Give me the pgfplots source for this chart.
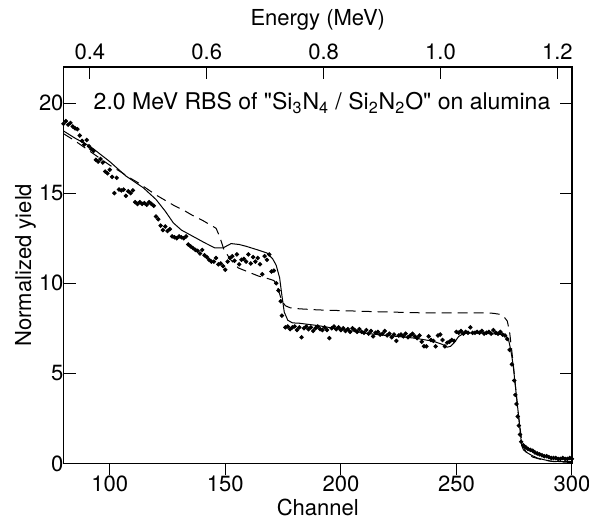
\documentclass[border=0pt]{standalone}
\usepackage{fontspec}
\setmainfont{TeX Gyre Heros}[Ligatures=TeXOff]
\usepackage{pgfplots}
\pgfplotsset{compat=1.18}
\usepackage{pgfplotstable}

\pgfplotstableread{
ch val
80 18.85
81 19.0
82 18.8
83 18.9
84 18.7
85 18.6
86 18.55
87 18.2
88 17.9
89 17.7
90 17.95
91 17.6
92 17.45
93 17.35
94 16.85
95 16.75
96 16.9
97 16.7
98 16.2
99 16.1
100 16.3
101 15.9
102 15.0
103 15.85
104 15.2
105 15.15
106 15.2
107 14.85
108 15.1
109 15.0
110 15.15
111 14.5
112 14.4
113 14.5
114 14.4
115 14.45
116 14.35
117 14.5
118 14.4
119 14.3
120 13.7
121 13.55
122 13.2
123 12.95
124 13.15
125 12.9
126 13.0
127 12.6
128 12.55
129 12.5
130 12.6
131 12.55
132 12.5
133 12.6
134 12.15
135 12.05
136 11.95
137 11.85
138 11.8
139 11.65
140 11.85
141 11.55
142 11.45
143 11.3
144 11.2
145 11.2
146 11.4
147 11.05
148 11.1
149 10.95
150 10.75
151 11.2
152 11.4
153 11.5
154 11.25
155 11.6
156 11.05
157 11.3
158 11.35
159 11.2
160 11.6
161 11.1
162 11.45
163 11.2
164 11.4
165 11.05
166 10.5
167 11.5
168 11.3
169 11.6
170 10.65
171 10.7
172 10.0
173 9.6
174 9.0
174.5 8.2
176 7.55
177 7.6
178 7.45
179 7.55
180 7.6
181 7.4
182 7.55
183 7.0
184 7.5
185 7.6
186 7.45
187 7.55
188 7.35
189 7.5
190 7.6
191 7.45
192 7.4
193 7.55
194 7.4
195 6.95
196 7.5
197 7.6
198 7.45
199 7.55
200 7.4
201 7.5
202 7.35
203 7.45
204 7.3
205 7.5
206 7.4
207 7.3
208 7.45
209 7.3
210 7.25
211 7.4
212 7.2
213 7.35
214 7.05
215 7.25
216 7.3
217 7.15
218 7.2
219 7.35
220 7.1
221 7.2
222 7.0
223 7.15
224 6.8
225 7.1
226 7.15
227 7.05
228 7.2
229 7.0
230 7.1
231 7.2
232 7.05
233 6.95
234 7.1
235 6.75
236 6.5
237 6.5
238 7.05
239 6.85
240 6.8
241 6.5
242 7.1
243 7.15
244 6.85
245 6.5
246 6.7
247 6.75
248 6.85
249 6.8
250 7.3
251 7.25
252 7.35
253 7.2
254 7.3
255 7.25
256 7.55
257 7.25
258 7.25
259 7.3
260 7.25
261 7.35
262 7.2
263 7.25
264 7.3
265 7.2
266 7.4
267 7.25
268 7.2
269 7.3
270 7.15
271 7.1
272 6.9
273 6.3
274 5.5
275 4.6
275.5 3.8
276 3.3
276.5 2.6
277 2.1
277.5 1.6
278 1.2
279 1.0
280 0.9
281 0.8
282 0.75
283 0.7
284 0.6
285 0.55
286 0.5
287 0.45
288 0.4
289 0.4
290 0.35
291 0.3
292 0.3
293 0.3
294 0.25
295 0.25
296 0.3
297 0.25
298 0.25
299 0.3
300 0.25
}\dots

\pgfplotstableread{
ch val
80 18.45
85 18.05
90 17.7
93 17.45
100 16.75
107 15.95
114.5 15.3
120 14.65
124 14.0
127.5 13.35
131 12.95
136 12.6
141 12.25
145.5 11.96
149 11.96
152.5 12.2
156 12.15
159 12.05
164 11.85
168 11.68
170.5 11.35
172 11.0
173.5 10.3
174.5 9.3
175.5 8.4
177 7.95
179 7.8
182 7.78
190 7.65
197 7.5
205 7.35
211 7.22
218 7.12
225 7.04
232 6.95
240 6.78
244 6.6
246 6.45
247.5 6.5
249 6.7
251 7.05
253 7.2
258 7.26
265 7.2
270 7.15
271.5 7.05
272.5 6.9
273.5 6.3
274.5 5.5
275.5 4.3
276.5 3.1
277.5 1.9
278.2 1.0
279 0.75
280.5 0.6
282.5 0.45
285 0.3
288 0.2
291 0.12
295 0.1
300 0.1
}\solid

\pgfplotstableread{
ch val
80 18.3
85 17.9
90 17.45
95 17.0
100 16.55
104.5 16.2
108 15.9
112 15.6
116 15.25
120 14.9
124 14.6
128 14.3
132 14.05
136 13.75
140 13.5
144 13.2
146 13.05
147.5 12.6
149.3 11.9
152 11.35
155.6 10.85
160.8 10.58
164.3 10.4
168.6 10.25
171 10.15
172.5 9.85
173.5 9.4
174.5 9.0
176 8.75
178 8.64
182 8.58
190 8.52
200 8.48
215 8.42
234 8.36
250 8.36
262 8.36
266 8.33
268.5 8.28
270.5 8.15
272 7.9
273 7.3
274 6.2
275 5.0
276 3.7
277 2.5
278 1.5
279 0.9
280.5 0.55
283 0.35
287 0.2
292 0.1
300 0.05
}\dashed

\begin{document}
\begin{tikzpicture}[font=\fontsize{11}{13}\selectfont]
\begin{axis}[
  name=main,
  scale only axis, width=254pt, height=198pt,
  xmin=80, xmax=300, ymin=0, ymax=22,
  xtick={100,150,200,250,300}, ytick={0,5,10,15,20},
  xtick pos=bottom, xtick align=outside,
  ytick pos=both, ytick align=inside,
  major tick length=6pt,
  every tick/.style={black, line width=0.5pt},
  axis line style={line width=0.6pt},
  /pgf/number format/assume math mode=true,
  tick label style={font=\fontsize{11}{13}\selectfont},
  xticklabel style={yshift=3.5pt},
  yticklabel style={xshift=3.5pt},
  xlabel={Channel}, ylabel={Normalized yield},
  label style={font=\fontsize{11}{13}\selectfont},
  xlabel style={at={(axis description cs:0.5,0)}, anchor=center, yshift=-22pt},
  ylabel style={at={([xshift=-19pt]axis description cs:0,0.5)}, anchor=center, rotate=0},
  clip=true,
]
\addplot[black, line width=0.5pt] table[x=ch, y=val] {\solid};
\addplot[black, line width=0.5pt, dash pattern=on 5pt off 3pt] table[x=ch, y=val] {\dashed};
\addplot[only marks, mark=*, mark size=0.9pt, black] table[x=ch, y=val] {\dots};
\node[anchor=west, font=\fontsize{11.5}{14}\selectfont] at (axis cs:90,20) {2.0 MeV RBS of "Si\textsubscript{3}N\textsubscript{4} / Si\textsubscript{2}N\textsubscript{2}O" on alumina};
\end{axis}
\begin{axis}[
  scale only axis, width=254pt, height=198pt,
  xmin=0.355, xmax=1.225, ymin=0, ymax=22,
  axis x line*=top, axis y line=none,
  xtick={0.4,0.6,0.8,1.0,1.2}, xticklabels={0.4,0.6,0.8,1.0,1.2},
  xtick align=inside, major tick length=6pt,
  every tick/.style={black, line width=0.5pt},
  axis line style={line width=0.6pt},
  tick label style={font=\fontsize{11}{13}\selectfont},
  xlabel={Energy (MeV)},
  label style={font=\fontsize{11}{13}\selectfont},
]
\end{axis}
\pgfresetboundingbox
\path[use as bounding box] ([xshift=-31.75pt,yshift=-29.5pt]main.south west) rectangle ([xshift=8.5pt,yshift=33.5pt]main.north east);
\end{tikzpicture}
\end{document}
